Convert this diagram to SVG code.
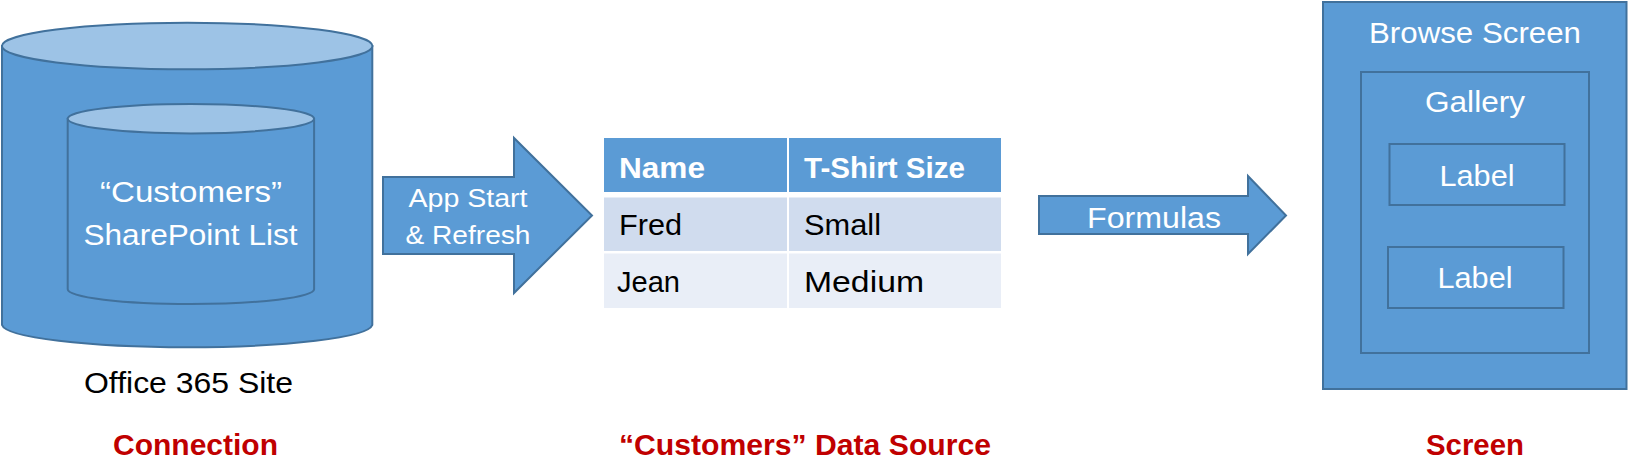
<svg xmlns="http://www.w3.org/2000/svg" width="1628" height="461" viewBox="0 0 1628 461">
  <style>
    .shape { fill: #5B9BD5; stroke: #41719C; stroke-width: 2; }
    .cap { fill: #9DC3E6; stroke: #41719C; stroke-width: 2; }
    .wt { font-family: "Liberation Sans", Arial, sans-serif; font-size: 30px; fill: #FFFFFF; }
    .bt { font-family: "Liberation Sans", Arial, sans-serif; font-size: 30px; fill: #000000; }
    .hd { font-family: "Liberation Sans", Arial, sans-serif; font-size: 30px; font-weight: bold; fill: #FFFFFF; }
    .red { font-family: "Liberation Sans", Arial, sans-serif; font-size: 29px; font-weight: bold; fill: #C00000; }
    .mid { text-anchor: middle; }
  </style>
  <rect width="1628" height="461" fill="#FFFFFF"/>

  <g id="office365-site">
    <path class="shape" d="M 2,46 L 2,325 A 185.3 23.3 0 0 0 372.3,325 L 372.3,46 Z"/>
    <ellipse class="cap" cx="187.2" cy="46" rx="185.3" ry="23.3"/>
    <g id="sharepoint-list">
      <path class="shape" d="M 67.7,118.7 L 67.7,289.3 A 123.2 14.7 0 0 0 314.1,289.3 L 314.1,118.7 Z"/>
      <ellipse class="cap" cx="190.9" cy="118.7" rx="123.2" ry="14.7"/>
      <text class="wt mid" x="191" y="202" textLength="182" lengthAdjust="spacingAndGlyphs">“Customers”</text>
      <text class="wt mid" x="190.5" y="245" textLength="214" lengthAdjust="spacingAndGlyphs">SharePoint List</text>
    </g>
    <text class="bt" x="84" y="393" textLength="209" lengthAdjust="spacingAndGlyphs">Office 365 Site</text>
  </g>

  <g id="connectors">
    <g id="arrow-app-start">
      <polygon class="shape" points="383,177 514,177 514,138 592,215.5 514,293 514,254 383,254"/>
      <text class="wt mid" x="468" y="207" style="font-size:26.5px" textLength="119" lengthAdjust="spacingAndGlyphs">App Start</text>
      <text class="wt mid" x="468" y="244" style="font-size:26.5px" textLength="125" lengthAdjust="spacingAndGlyphs">&amp; Refresh</text>
    </g>
    <g id="arrow-formulas">
      <polygon class="shape" points="1039,196 1248,196 1248,176 1286,215.5 1248,254 1248,234 1039,234"/>
      <text class="wt mid" x="1154" y="228" textLength="134" lengthAdjust="spacingAndGlyphs">Formulas</text>
    </g>
  </g>

  <g id="data-source-table">
    <rect x="604" y="138" width="183" height="54" fill="#5B9BD5"/>
    <rect x="789" y="138" width="212" height="54" fill="#5B9BD5"/>
    <rect x="604" y="197.5" width="183" height="53.5" fill="#D0DCEE"/>
    <rect x="789" y="197.5" width="212" height="53.5" fill="#D0DCEE"/>
    <rect x="604" y="253.5" width="183" height="54.5" fill="#E9EEF7"/>
    <rect x="789" y="253.5" width="212" height="54.5" fill="#E9EEF7"/>
    <text class="hd" x="619" y="178" textLength="86" lengthAdjust="spacingAndGlyphs">Name</text>
    <text class="hd" x="804" y="178" textLength="161" lengthAdjust="spacingAndGlyphs">T-Shirt Size</text>
    <text class="bt" x="619" y="235" textLength="63" lengthAdjust="spacingAndGlyphs">Fred</text>
    <text class="bt" x="804" y="235" textLength="77" lengthAdjust="spacingAndGlyphs">Small</text>
    <text class="bt" x="617" y="292" textLength="63" lengthAdjust="spacingAndGlyphs">Jean</text>
    <text class="bt" x="804" y="292" textLength="120" lengthAdjust="spacingAndGlyphs">Medium</text>
  </g>

  <g id="browse-screen">
    <rect class="shape" x="1323" y="2" width="303.5" height="387"/>
    <text class="wt mid" x="1475" y="43" textLength="212" lengthAdjust="spacingAndGlyphs">Browse Screen</text>
    <g id="gallery">
      <rect class="shape" x="1361" y="72" width="228" height="281"/>
      <text class="wt mid" x="1475" y="112" textLength="100" lengthAdjust="spacingAndGlyphs">Gallery</text>
    </g>
    <g id="label-1">
      <rect class="shape" x="1389.5" y="144" width="175" height="61"/>
      <text class="wt mid" x="1477" y="186" textLength="75" lengthAdjust="spacingAndGlyphs">Label</text>
    </g>
    <g id="label-2">
      <rect class="shape" x="1388" y="247" width="175.5" height="61"/>
      <text class="wt mid" x="1475" y="288" textLength="75" lengthAdjust="spacingAndGlyphs">Label</text>
    </g>
  </g>

  <g id="captions">
    <text class="red mid" x="195.5" y="454.5" textLength="165" lengthAdjust="spacingAndGlyphs">Connection</text>
    <text class="red mid" x="805" y="454.5" textLength="372" lengthAdjust="spacingAndGlyphs">“Customers” Data Source</text>
    <text class="red mid" x="1475" y="454.5" textLength="98" lengthAdjust="spacingAndGlyphs">Screen</text>
  </g>
</svg>
